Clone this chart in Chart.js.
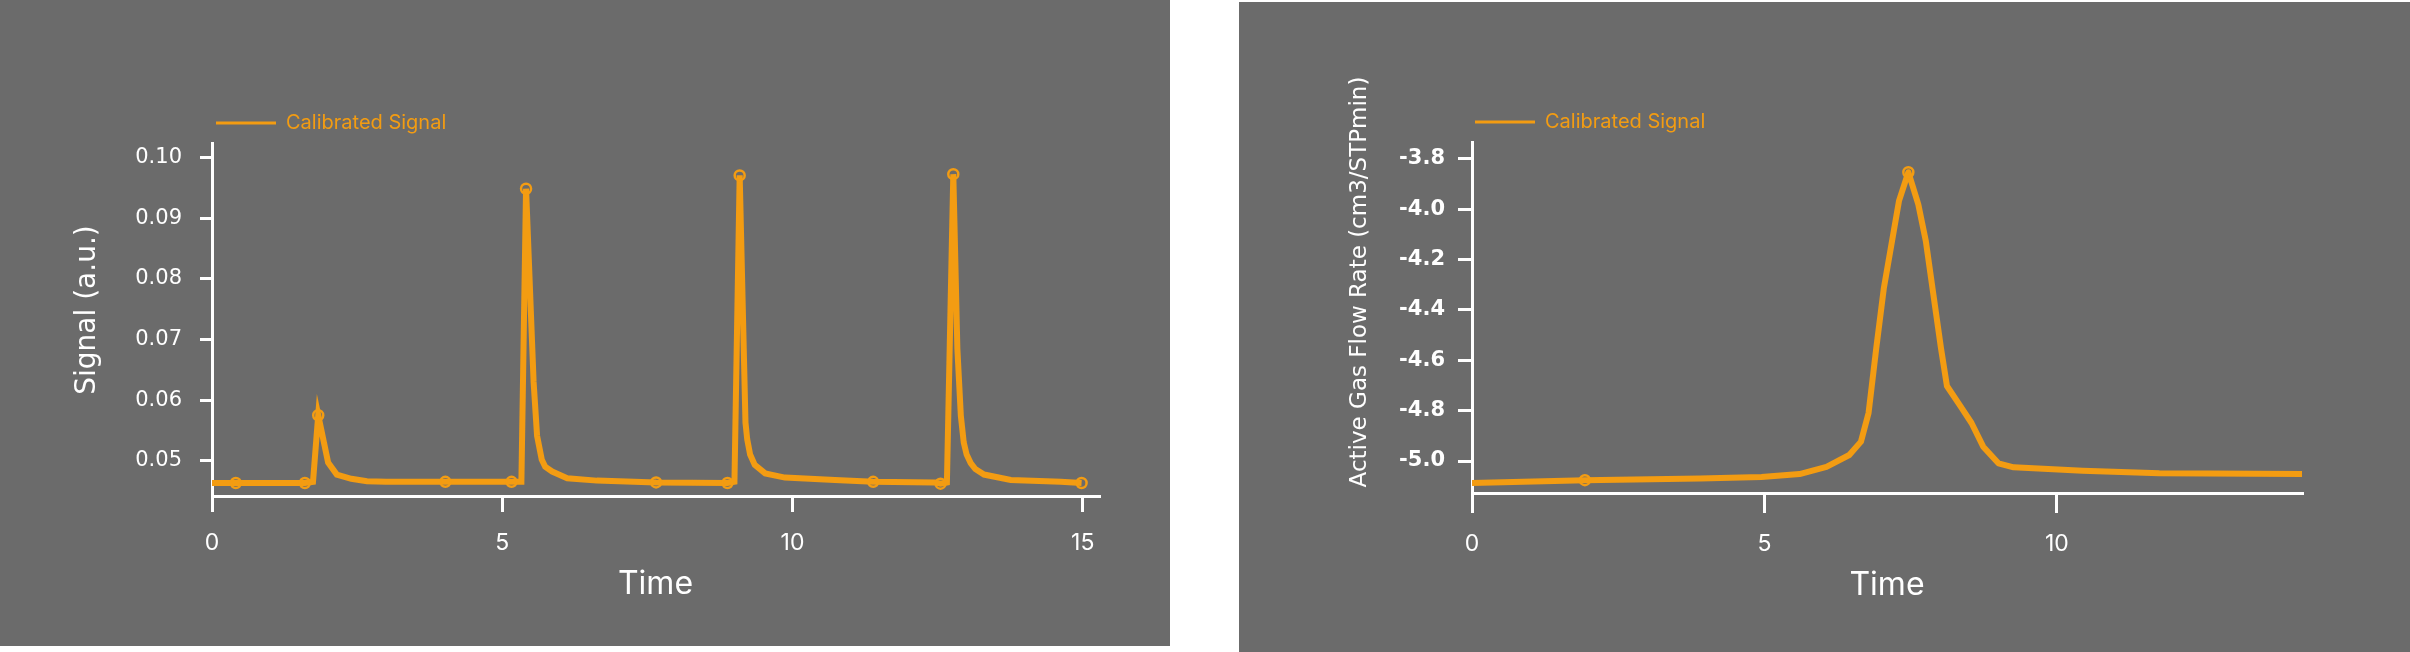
<!DOCTYPE html>
<html>
<head>
<meta charset="utf-8">
<title>Calibrated Signal</title>
<script src="https://cdn.jsdelivr.net/npm/chart.js@4.4.1/dist/chart.umd.min.js"></script>
<style>
  body { margin: 0; background: #ffffff; width: 2410px; height: 652px; overflow: hidden; position: relative; }
  canvas { position: absolute; background: #6b6b6b; }
  #signalChart { left: 0; top: 0; }
  #flowChart { left: 1239px; top: 2px; }
</style>
</head>
<body>
<canvas id="signalChart" width="1170" height="646"></canvas>
<canvas id="flowChart" width="1171" height="650"></canvas>
<script>
// left panel - calibrated signal vs time
const signalTime = [
    0, 0.41, 1.0, 1.6, 1.74,
    1.83, 2.0, 2.15, 2.4, 2.67,
    3.0, 4.02, 5.16, 5.33, 5.41,
    5.54, 5.60, 5.68, 5.74, 5.86,
    6.12, 6.63, 7.65, 8.88, 9.0,
    9.09, 9.16, 9.19, 9.22, 9.27,
    9.35, 9.53, 9.87, 10.73, 11.39,
    12.45, 12.55, 12.66, 12.77, 12.84,
    12.90, 12.95, 13.0, 13.07, 13.15,
    13.30, 13.76, 14.62, 14.98
];
const signalValue = [
    0.0463, 0.0463, 0.0463, 0.0463, 0.0465,
    0.0575, 0.0497, 0.0477, 0.0470, 0.0466,
    0.0465, 0.0465, 0.0465, 0.0465, 0.0949,
    0.0630, 0.0541, 0.0502, 0.0490, 0.0482,
    0.0471, 0.0467, 0.0464, 0.0463, 0.0465,
    0.0971, 0.0685, 0.0563, 0.0535, 0.0510,
    0.0493, 0.0479, 0.0472, 0.0468, 0.0465,
    0.0464, 0.0462, 0.0464, 0.0973, 0.0685,
    0.0574, 0.0530, 0.0510, 0.0496, 0.0486,
    0.0477, 0.0468, 0.0465, 0.0463
];
// sample points that carry a circle marker
const signalMarkTime = [0.41, 1.6, 1.83, 4.02, 5.16, 5.41, 7.65, 8.88, 9.09, 11.39, 12.55, 12.77, 14.98];
const signalMarkValue = [0.0463, 0.0463, 0.0575, 0.0465, 0.0465, 0.0949, 0.0464, 0.0463, 0.0971, 0.0465, 0.0462, 0.0973, 0.0463];
const signalXTicks = [0, 5, 10, 15];
const signalYTicks = [0.05, 0.06, 0.07, 0.08, 0.09, 0.10];

// right panel - active gas flow rate vs time
const flowTime = [
    0, 1.93, 3.9, 4.95, 5.6,
    6.06, 6.45, 6.65, 6.78, 6.91,
    7.04, 7.17, 7.30, 7.46, 7.63,
    7.76, 7.89, 8.02, 8.12, 8.35,
    8.54, 8.74, 9.00, 9.26, 10.44,
    11.75, 14.19
];
const flowValue = [
    -5.087, -5.076, -5.069, -5.063, -5.052,
    -5.023, -4.976, -4.923, -4.809, -4.555,
    -4.315, -4.141, -3.967, -3.853, -3.981,
    -4.128, -4.342, -4.555, -4.702, -4.782,
    -4.849, -4.943, -5.009, -5.025, -5.039,
    -5.049, -5.052
];
const flowMarkTime = [1.93, 7.46];
const flowMarkValue = [-5.076, -3.853];
const flowXTicks = [0, 5, 10];
const flowYTicks = [-5.0, -4.8, -4.6, -4.4, -4.2, -4.0, -3.8];

const ORANGE = '#f39c12';
const WHITE = '#ffffff';

function pairs(xs, ys) {
    return xs.map((x, i) => ({ x: x, y: ys[i] }));
}

// rotated title on the left side, placed where the reference has it
const sideTitle = {
    id: 'sideTitle',
    afterDraw(chart, args, opts) {
        let ctx = chart.ctx;
        ctx.save();
        ctx.translate(opts.x, opts.y);
        ctx.rotate(-Math.PI / 2);
        ctx.font = opts.font;
        ctx.fillStyle = WHITE;
        ctx.textAlign = 'center';
        ctx.textBaseline = 'middle';
        ctx.fillText(opts.text, 0, 0);
        ctx.restore();
    }
};

// legend sits over the plot area only, so it starts at the y axis
function legendOptions(pad) {
    return {
        align: 'start',
        fullSize: false,
        labels: {
            color: ORANGE,
            font: { family: 'Inter', size: 20 },
            padding: pad,
            usePointStyle: true,
            pointStyle: 'line',
            pointStyleWidth: 60,
            generateLabels: chart => Chart.defaults.plugins.legend.labels.generateLabels(chart)
                .filter(item => item.datasetIndex === 0)
                .map(item => Object.assign(item, { lineWidth: 3 }))
        }
    };
}

function lineSet(xs, ys, join) {
    return {
        label: 'Calibrated Signal',
        data: pairs(xs, ys),
        borderColor: ORANGE,
        backgroundColor: ORANGE,
        borderWidth: 6,
        borderJoinStyle: join,
        pointRadius: 0,
        tension: 0,
        fill: false,
        order: 1
    };
}

function markerSet(xs, ys) {
    return {
        label: 'markers',
        data: pairs(xs, ys),
        showLine: false,
        pointRadius: 5,
        pointBorderWidth: 2.5,
        pointBorderColor: ORANGE,
        pointBackgroundColor: 'rgba(0,0,0,0)',
        order: 0
    };
}

function buildSignalChart() {
    new Chart(document.getElementById('signalChart'), {
        type: 'line',
        data: {
            datasets: [
                lineSet(signalTime, signalValue, 'miter'),
                markerSet(signalMarkTime, signalMarkValue)
            ]
        },
        options: {
            responsive: false,
            animation: false,
            layout: { padding: { top: 109, left: 0, right: 71, bottom: 0 } },
            scales: {
                x: {
                    type: 'linear',
                    min: 0,
                    max: 15.28,
                    afterBuildTicks: axis => { axis.ticks = signalXTicks.map(v => ({ value: v })); },
                    afterFit: axis => { axis.height = 150; },
                    ticks: { color: WHITE, font: { family: 'Inter', size: 23 }, padding: 17, maxRotation: 0 },
                    grid: { drawOnChartArea: false, color: WHITE, tickLength: 16, lineWidth: 3 },
                    border: { color: WHITE, width: 3 },
                    title: {
                        display: true,
                        text: 'Time',
                        color: WHITE,
                        font: { family: 'Inter', size: 32 },
                        padding: { top: 0, bottom: 42 }
                    }
                },
                y: {
                    type: 'linear',
                    min: 0.04416,
                    max: 0.10245,
                    afterBuildTicks: axis => { axis.ticks = signalYTicks.map(v => ({ value: v })); },
                    afterFit: axis => { axis.width = 212; },
                    ticks: {
                        color: WHITE,
                        font: { family: 'DejaVu Sans', size: 21 },
                        padding: 18,
                        callback: v => v.toFixed(2)
                    },
                    grid: { drawOnChartArea: false, color: WHITE, tickLength: 12, lineWidth: 3 },
                    border: { color: WHITE, width: 3 }
                }
            },
            plugins: {
                legend: legendOptions(4),
                tooltip: { enabled: false },
                sideTitle: { text: 'Signal (a.u.)', x: 88, y: 310, font: '28px "DejaVu Sans"' }
            }
        },
        plugins: [sideTitle]
    });
}

function buildFlowChart() {
    new Chart(document.getElementById('flowChart'), {
        type: 'line',
        data: {
            datasets: [
                lineSet(flowTime, flowValue, 'round'),
                markerSet(flowMarkTime, flowMarkValue)
            ]
        },
        options: {
            responsive: false,
            animation: false,
            layout: { padding: { top: 107, left: 0, right: 108, bottom: 0 } },
            scales: {
                x: {
                    type: 'linear',
                    min: 0,
                    max: 14.19,
                    afterBuildTicks: axis => { axis.ticks = flowXTicks.map(v => ({ value: v })); },
                    afterFit: axis => { axis.height = 159; },
                    ticks: { color: WHITE, font: { family: 'Inter', size: 23 }, padding: 17, maxRotation: 0 },
                    grid: { drawOnChartArea: false, color: WHITE, tickLength: 20, lineWidth: 3 },
                    border: { color: WHITE, width: 3 },
                    title: {
                        display: true,
                        text: 'Time',
                        color: WHITE,
                        font: { family: 'Inter', size: 32 },
                        padding: { top: 0, bottom: 47 }
                    }
                },
                y: {
                    type: 'linear',
                    min: -5.127,
                    max: -3.733,
                    afterBuildTicks: axis => { axis.ticks = flowYTicks.map(v => ({ value: v })); },
                    afterFit: axis => { axis.width = 233; },
                    ticks: {
                        color: WHITE,
                        font: { family: 'DejaVu Sans', size: 21, weight: 'bold' },
                        padding: 13,
                        callback: v => v.toFixed(1)
                    },
                    grid: { drawOnChartArea: false, color: WHITE, tickLength: 14, lineWidth: 3 },
                    border: { color: WHITE, width: 3 }
                }
            },
            plugins: {
                legend: legendOptions(3),
                tooltip: { enabled: false },
                sideTitle: { text: 'Active Gas Flow Rate (cm3/STPmin)', x: 121, y: 280, font: '23px "DejaVu Sans"' }
            }
        },
        plugins: [sideTitle]
    });
}

Promise.all([
    document.fonts.load('20px Inter'),
    document.fonts.load('21px "DejaVu Sans"'),
    document.fonts.load('bold 21px "DejaVu Sans"')
]).catch(() => null).then(() => {
    buildSignalChart();
    buildFlowChart();
});
</script>
</body>
</html>
